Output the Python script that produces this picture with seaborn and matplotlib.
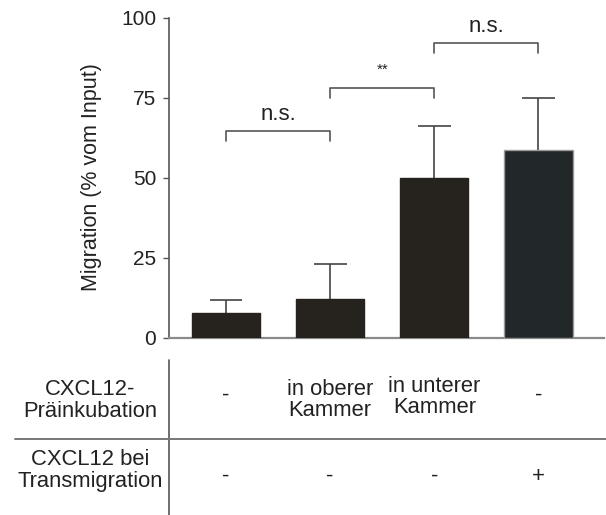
import matplotlib
matplotlib.use("Agg")
import matplotlib.pyplot as plt
import matplotlib.transforms as mtransforms
from matplotlib.lines import Line2D
import seaborn as sns
import pandas as pd

# ---------------- data ----------------
conditions = ["A", "B", "C", "D"]
migration_mean = [7.6, 12.0, 50.0, 58.7]
migration_sd = [4.2, 11.0, 16.2, 16.2]
bar_colors = ["#26231e", "#26231e", "#26231e", "#22272a"]
bar_edges = ["#26231e", "#26231e", "#26231e", "#9a9a9a"]

bracket_pairs = [(0, 1), (1, 2), (2, 3)]
bracket_heights = [64.4, 78.1, 92.0]
bracket_labels = ["n.s.", "**", "n.s."]

row_labels = ["CXCL12-\nPräinkubation", "CXCL12 bei\nTransmigration"]
row_praeinkubation = ["-", "in oberer\nKammer", "in unterer\nKammer", "-"]
row_transmigration = ["-", "-", "-", "+"]

y_ticks = [0, 25, 50, 75, 100]
y_label = "Migration (% vom Input)"

# ---------------- figure ----------------
sns.set_theme(style="white")
plt.rcParams["font.family"] = ["Liberation Sans", "DejaVu Sans"]

W, H = 606, 515
fig = plt.figure(figsize=(W / 100, H / 100), dpi=100)
fig.patch.set_facecolor("white")

ax_left, ax_right, ax_top, ax_bottom = 169, 604, 17.5, 337.5
ax = fig.add_axes([ax_left / W, 1 - ax_bottom / H, (ax_right - ax_left) / W,
                   (ax_bottom - ax_top) / H])

df = pd.DataFrame({"cond": conditions, "val": migration_mean})
sns.barplot(data=df, x="cond", y="val", hue="cond", palette=bar_colors,
            legend=False, errorbar=None, width=0.655, ax=ax, saturation=1)
for patch, ec in zip(ax.patches, bar_edges):
    patch.set_edgecolor(ec)
    patch.set_linewidth(1.0)
    patch.set_zorder(3)

xs = list(range(len(conditions)))
tops = [m + s for m, s in zip(migration_mean, migration_sd)]
cap = 0.158
ax.vlines(xs, migration_mean, tops, color="#444444", lw=1.2, zorder=2)
ax.hlines(tops, [x - cap for x in xs], [x + cap for x in xs], color="#444444",
          lw=1.2, zorder=2)

px_per_unit = 104.1
ax.set_xlim(-(226 - ax_left) / px_per_unit, 3 + (ax_right - 538.5) / px_per_unit)
ax.set_ylim(0, 100)
ax.set_yticks(y_ticks)
ax.set_yticklabels([str(t) for t in y_ticks], fontsize=15, color="#222222")
ax.set_xticks([])
ax.set_xlabel("")
ax.set_ylabel(y_label, fontsize=15.5, color="#222222", va="center")
ax.yaxis.set_label_coords((92 - ax_left) / (ax_right - ax_left), 0.5)
ax.tick_params(axis="y", direction="out", length=4.3, width=1.0, color="#555555",
               pad=5.0, left=True)
for s in ["top", "right"]:
    ax.spines[s].set_visible(False)
ax.spines["left"].set_color("#555555")
ax.spines["left"].set_linewidth(1.2)
ax.spines["bottom"].set_color("#8a8a8a")
ax.spines["bottom"].set_linewidth(1.6)

# significance brackets
drop = 3.1
for (a, b), h, lab in zip(bracket_pairs, bracket_heights, bracket_labels):
    ax.plot([a, a, b, b], [h - drop, h, h, h - drop], color="#555555", lw=1.2,
            clip_on=False, zorder=4)
    if lab == "**":
        ax.text((a + b) / 2, h + 5.5, lab, ha="center", va="center",
                fontsize=11, color="#222222", clip_on=False)
    else:
        ax.text((a + b) / 2, h + 5.2, lab, ha="center", va="center",
                fontsize=16, color="#222222", clip_on=False)

# ---------------- condition table ----------------
trans = mtransforms.blended_transform_factory(ax.transData, fig.transFigure)
row1_y = [395, 400, 397, 395]
for x, lab, yy in zip(xs, row_praeinkubation, row1_y):
    ax.text(x, 1 - yy / H, lab, transform=trans, ha="center", va="center",
            fontsize=15.8, color="#222222", linespacing=1.05, clip_on=False)
for x, lab in zip(xs, row_transmigration):
    ax.text(x, 1 - 476 / H, lab, transform=trans, ha="center", va="center",
            fontsize=15.8, color="#222222", clip_on=False)

fig.text(90 / W, 1 - 400.5 / H, row_labels[0], ha="center", va="center",
         fontsize=15.8, color="#222222", linespacing=1.05)
fig.text(90 / W, 1 - 470.5 / H, row_labels[1], ha="center", va="center",
         fontsize=15.8, color="#222222", linespacing=1.05)

fig.add_artist(Line2D([169 / W, 169 / W], [1 - 360 / H, 0], transform=fig.transFigure,
                      color="#555555", lw=1.2))
fig.add_artist(Line2D([15 / W, 1], [1 - 439 / H, 1 - 439 / H], transform=fig.transFigure,
                      color="#777777", lw=1.4))

fig.savefig("out.png", dpi=100, facecolor="white")
